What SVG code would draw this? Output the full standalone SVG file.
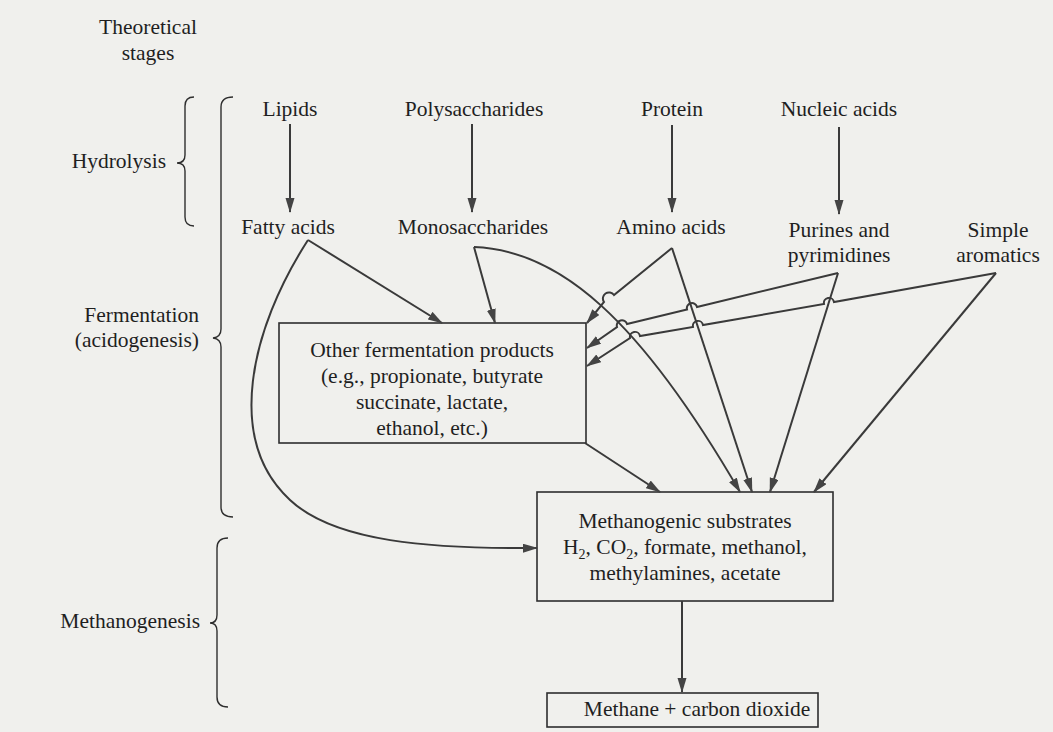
<svg xmlns="http://www.w3.org/2000/svg" width="1053" height="732" viewBox="0 0 1053 732">
<style>
text{font-family:"Liberation Serif","Times New Roman",serif;font-size:21.5px;fill:#1f1f1f;text-anchor:middle}
.end{text-anchor:end}
.box{fill:none;stroke:#2e2e2e;stroke-width:1.6}
.brace{fill:none;stroke:#2e2e2e;stroke-width:1.4}
.c{fill:none;stroke:#3a3a3a;stroke-width:2;marker-end:url(#ah)}
.sub{font-size:14px}
</style>
<defs>
<marker id="ah" markerUnits="userSpaceOnUse" markerWidth="16" markerHeight="10" refX="14" refY="4.5" orient="auto">
<path d="M0,0 L15,4.5 L0,9 z" fill="#444"/>
</marker>
</defs>
<rect width="1053" height="732" fill="#f0f0ed"/>

<g id="stages">
<text x="148" y="34">Theoretical</text>
<text x="148" y="60">stages</text>
</g>
<g id="hydrolysis">
<text class="end" x="166" y="168">Hydrolysis</text>
<path class="brace" d="M194,97 Q185,97 185,106 L185,155 Q185,163 177,163 Q185,163 185,171 L185,217 Q185,226 194,226"/>
</g>
<g id="fermentation">
<text class="end" x="199" y="322">Fermentation</text>
<text class="end" x="199" y="347">(acidogenesis)</text>
<path class="brace" d="M233,97 Q221,97 221,107 L221,329 Q221,337 213,338 Q221,339 221,347 L221,507 Q221,517 233,517"/>
</g>
<g id="methanogenesis">
<text class="end" x="200" y="628">Methanogenesis</text>
<path class="brace" d="M228,538 Q217,538 217,548 L217,615 Q217,623 210,623 Q217,623 217,631 L217,697 Q217,707 228,707"/>
</g>

<g id="lipids"><text x="290" y="116">Lipids</text></g>
<g id="polysaccharides"><text x="474" y="116">Polysaccharides</text></g>
<g id="protein"><text x="672" y="116">Protein</text></g>
<g id="nucleic-acids"><text x="839" y="116">Nucleic acids</text></g>

<g id="fatty-acids"><text x="288" y="234">Fatty acids</text></g>
<g id="monosaccharides"><text x="473" y="234">Monosaccharides</text></g>
<g id="amino-acids"><text x="671" y="234">Amino acids</text></g>
<g id="purines"><text x="839" y="237">Purines and</text><text x="839" y="262">pyrimidines</text></g>
<g id="aromatics"><text x="998" y="237">Simple</text><text x="998" y="262">aromatics</text></g>

<g id="other-products">
<rect class="box" x="279" y="323" width="307" height="120"/>
<text x="432" y="357">Other fermentation products</text>
<text x="432" y="383">(e.g., propionate, butyrate</text>
<text x="432" y="409">succinate, lactate,</text>
<text x="432" y="435">ethanol, etc.)</text>
</g>

<g id="methanogenic-substrates">
<rect class="box" x="537" y="492" width="296" height="109"/>
<text x="685" y="528">Methanogenic substrates</text>
<text x="685" y="554">H<tspan class="sub" dy="5">2</tspan><tspan dy="-5">, CO</tspan><tspan class="sub" dy="5">2</tspan><tspan dy="-5">, formate, methanol,</tspan></text>
<text x="685" y="580">methylamines, acetate</text>
</g>

<g id="methane">
<rect class="box" x="547" y="693" width="271" height="34"/>
<text x="697" y="716">Methane + carbon dioxide</text>
</g>

<g id="connectors">
<path class="c" d="M290,124 L290,212"/>
<path class="c" d="M472,124 L472,212"/>
<path class="c" d="M672,125 L672,212"/>
<path class="c" d="M839,127 L839,214"/>
<path class="c" d="M308,240 L442,323"/>
<path class="c" d="M308,240 C250,330 225,440 290,500 C335,542 430,549 537,548"/>
<path class="c" d="M474,247 L495,323"/>
<path class="c" d="M474,247 C560,250 640,320 740,492"/>
<path class="c" d="M672,248 L614,295 A5.5,5.5 0 0 0 604,302 L587,323"/>
<path class="c" d="M672,248 L752,492"/>
<path class="c" d="M838,273 L697,307 A5,5 0 0 0 687,309.5 L627,324 A5,5 0 0 0 617,327 L587,348"/>
<path class="c" d="M838,273 L770,492"/>
<path class="c" d="M996,273 L834,302 A5,5 0 0 0 824,304 L703,325 A5,5 0 0 0 693,327 L640,336 A5,5 0 0 0 630,338 L587,366"/>
<path class="c" d="M996,273 L814,492"/>
<path class="c" d="M585,443 L660,492"/>
<path class="c" d="M682,601 L682,692"/>
</g>
</svg>
